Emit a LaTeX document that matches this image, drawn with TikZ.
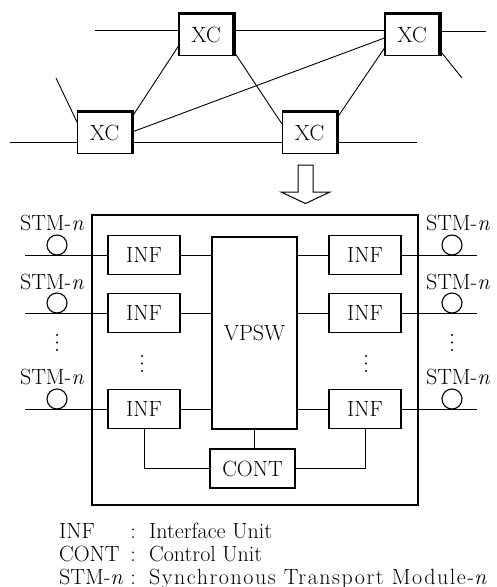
\documentclass[tikz,border=0pt]{standalone}
\usepackage{fontspec}
\setmainfont{Latin Modern Roman}
\usetikzlibrary{calc}
\begin{document}
\begin{tikzpicture}[x=1pt,y=-1pt,
  every node/.style={font=\fontsize{22}{26}\selectfont, inner sep=0pt},
  xcbox/.style={draw, line width=1.1pt, minimum width=54pt, minimum height=41pt, fill=white},
  unitbox/.style={draw, line width=1.1pt, minimum width=72pt, minimum height=39pt},
  bigbox/.style={draw, line width=1.1pt, minimum width=85pt, minimum height=#1},
  wire/.style={line width=0.9pt},
  fiber/.style={draw, circle, line width=1.1pt, minimum size=20pt},
  lbl/.style={anchor=center},
  leg/.style={anchor=base west}]
\useasboundingbox (0,0) rectangle (497,587);

% ---------- network of cross-connects ----------
\node[xcbox] (xc1) at (206,35) {XC};
\node[xcbox] (xc2) at (412,35) {XC};
\node[xcbox] (xc3) at (104.5,133) {XC};
\node[xcbox] (xc4) at (309.5,133) {XC};
\foreach \n in {xc1,xc2,xc3,xc4}
  \draw[line width=2.4pt] ([shift={(0pt,0.8pt)}]\n.north west) -- ([shift={(0.8pt,0.8pt)}]\n.north east) -- ([shift={(0.8pt,0pt)}]\n.south east);

\coordinate (t0) at (95,30);
\coordinate (t1) at (486,31);
\coordinate (b0) at (10,142);
\coordinate (b1) at (417,142);
\coordinate (s3) at (56,78);
\coordinate (s2) at (462,78);

\draw[wire] (t0) -- ($(xc1.west)+(0,-5)$);
\draw[wire] ($(xc1.east)+(0,-5)$) -- ($(xc2.west)+(0,-5)$);
\draw[wire] ($(xc2.east)+(0,-4)$) -- (t1);
\draw[wire] (b0) -- ($(xc3.west)+(0,9)$);
\draw[wire] ($(xc3.east)+(0,9)$) -- ($(xc4.west)+(0,9)$);
\draw[wire] ($(xc4.east)+(0,9)$) -- (b1);
\draw[wire] (s3) -- ($(xc3.north west)+(0,10)$);
\draw[wire] ($(xc3.north east)+(0,5)$) -- ($(xc1.south west)+(0,-10)$);
\draw[wire] ($(xc3.east)+(0,-1)$) -- ($(xc2.west)+(0,3)$);
\draw[wire] ($(xc1.south east)+(0,-5)$) -- ($(xc4.north west)+(0,12)$);
\draw[wire] ($(xc4.north east)+(0,6)$) -- ($(xc2.south west)+(0,-8)$);
\draw[wire] ($(xc2.south east)+(0,-6)$) -- (s2);

% ---------- hollow arrow ----------
\draw[line width=1pt, line join=miter] (298,165) -- (313,165) -- (313,192) -- (330,192) -- (305.5,203.5) -- (281,192) -- (298,192) -- cycle;

% ---------- switch node ----------
\draw[line width=1.8pt] (92,215) rectangle (418,505);

\node[unitbox] (il1) at (144,255) {INF};
\node[unitbox] (il2) at (144,313) {INF};
\node[unitbox] (il3) at (144,409) {INF};
\node[unitbox] (ir1) at (365,255) {INF};
\node[unitbox] (ir2) at (365,313) {INF};
\node[unitbox] (ir3) at (365,409) {INF};
\node[bigbox=192pt] (sw) at (254.5,333) {VPSW};
\node[bigbox=39pt] (cont) at (252.5,468.5) {CONT};

\foreach \r/\y in {1/255,2/313,3/409}{
  \coordinate (ol\r) at (25,\y);
  \coordinate (or\r) at (477,\y);
  \draw[wire] (ol\r) -- (il\r.west);
  \draw[wire] (ir\r.east) -- (or\r);
  \draw[wire] (il\r.east) -- (il\r.east -| sw.west);
  \draw[wire] (ir\r.west) -- (ir\r.west -| sw.east);
  \node[fiber] (cl\r) at (57,\y-10) {};
  \node[fiber] (cr\r) at (452,\y-10) {};
}
\node[lbl] (sl1) at (52,223) {STM-\textit{n}};
\node[lbl] (sl2) at (52,282) {STM-\textit{n}};
\node[lbl] (sl3) at (52,377) {STM-\textit{n}};
\node[lbl] (sr1) at (458,223) {STM-\textit{n}};
\node[lbl] (sr2) at (458,282) {STM-\textit{n}};
\node[lbl] (sr3) at (458,377) {STM-\textit{n}};

% vertical ellipses
\foreach \x/\y in {57/335, 142/356, 366/356, 452/335}
  \foreach \k in {0,1,2}
    \fill (\x,\y+7.5*\k) circle (1.05pt);

\draw[wire] (sw.south) -- (sw.south |- cont.north);
\draw[wire] (il3.south) |- (cont.west);
\draw[wire] (ir3.south) |- (cont.east);

% ---------- legend ----------
\node[leg] (k1) at (59,538) {INF};
\node[leg] (k2) at (59,561) {CONT};
\node[leg] (k3) at (59,584) {STM-\textit{n}};
\node[anchor=base] (c1) at (133,538) {:};
\node[anchor=base] (c2) at (133,561) {:};
\node[anchor=base] (c3) at (133,584) {:};
\node[leg] (v1) at (149,538) {Interface Unit};
\node[leg] (v2) at (149,561) {Control Unit};
\node[leg] (v3) at (149,584) {\addfontfeature{LetterSpace=7}Synchronous Transport Module-\textit{n}};
\end{tikzpicture}
\end{document}
